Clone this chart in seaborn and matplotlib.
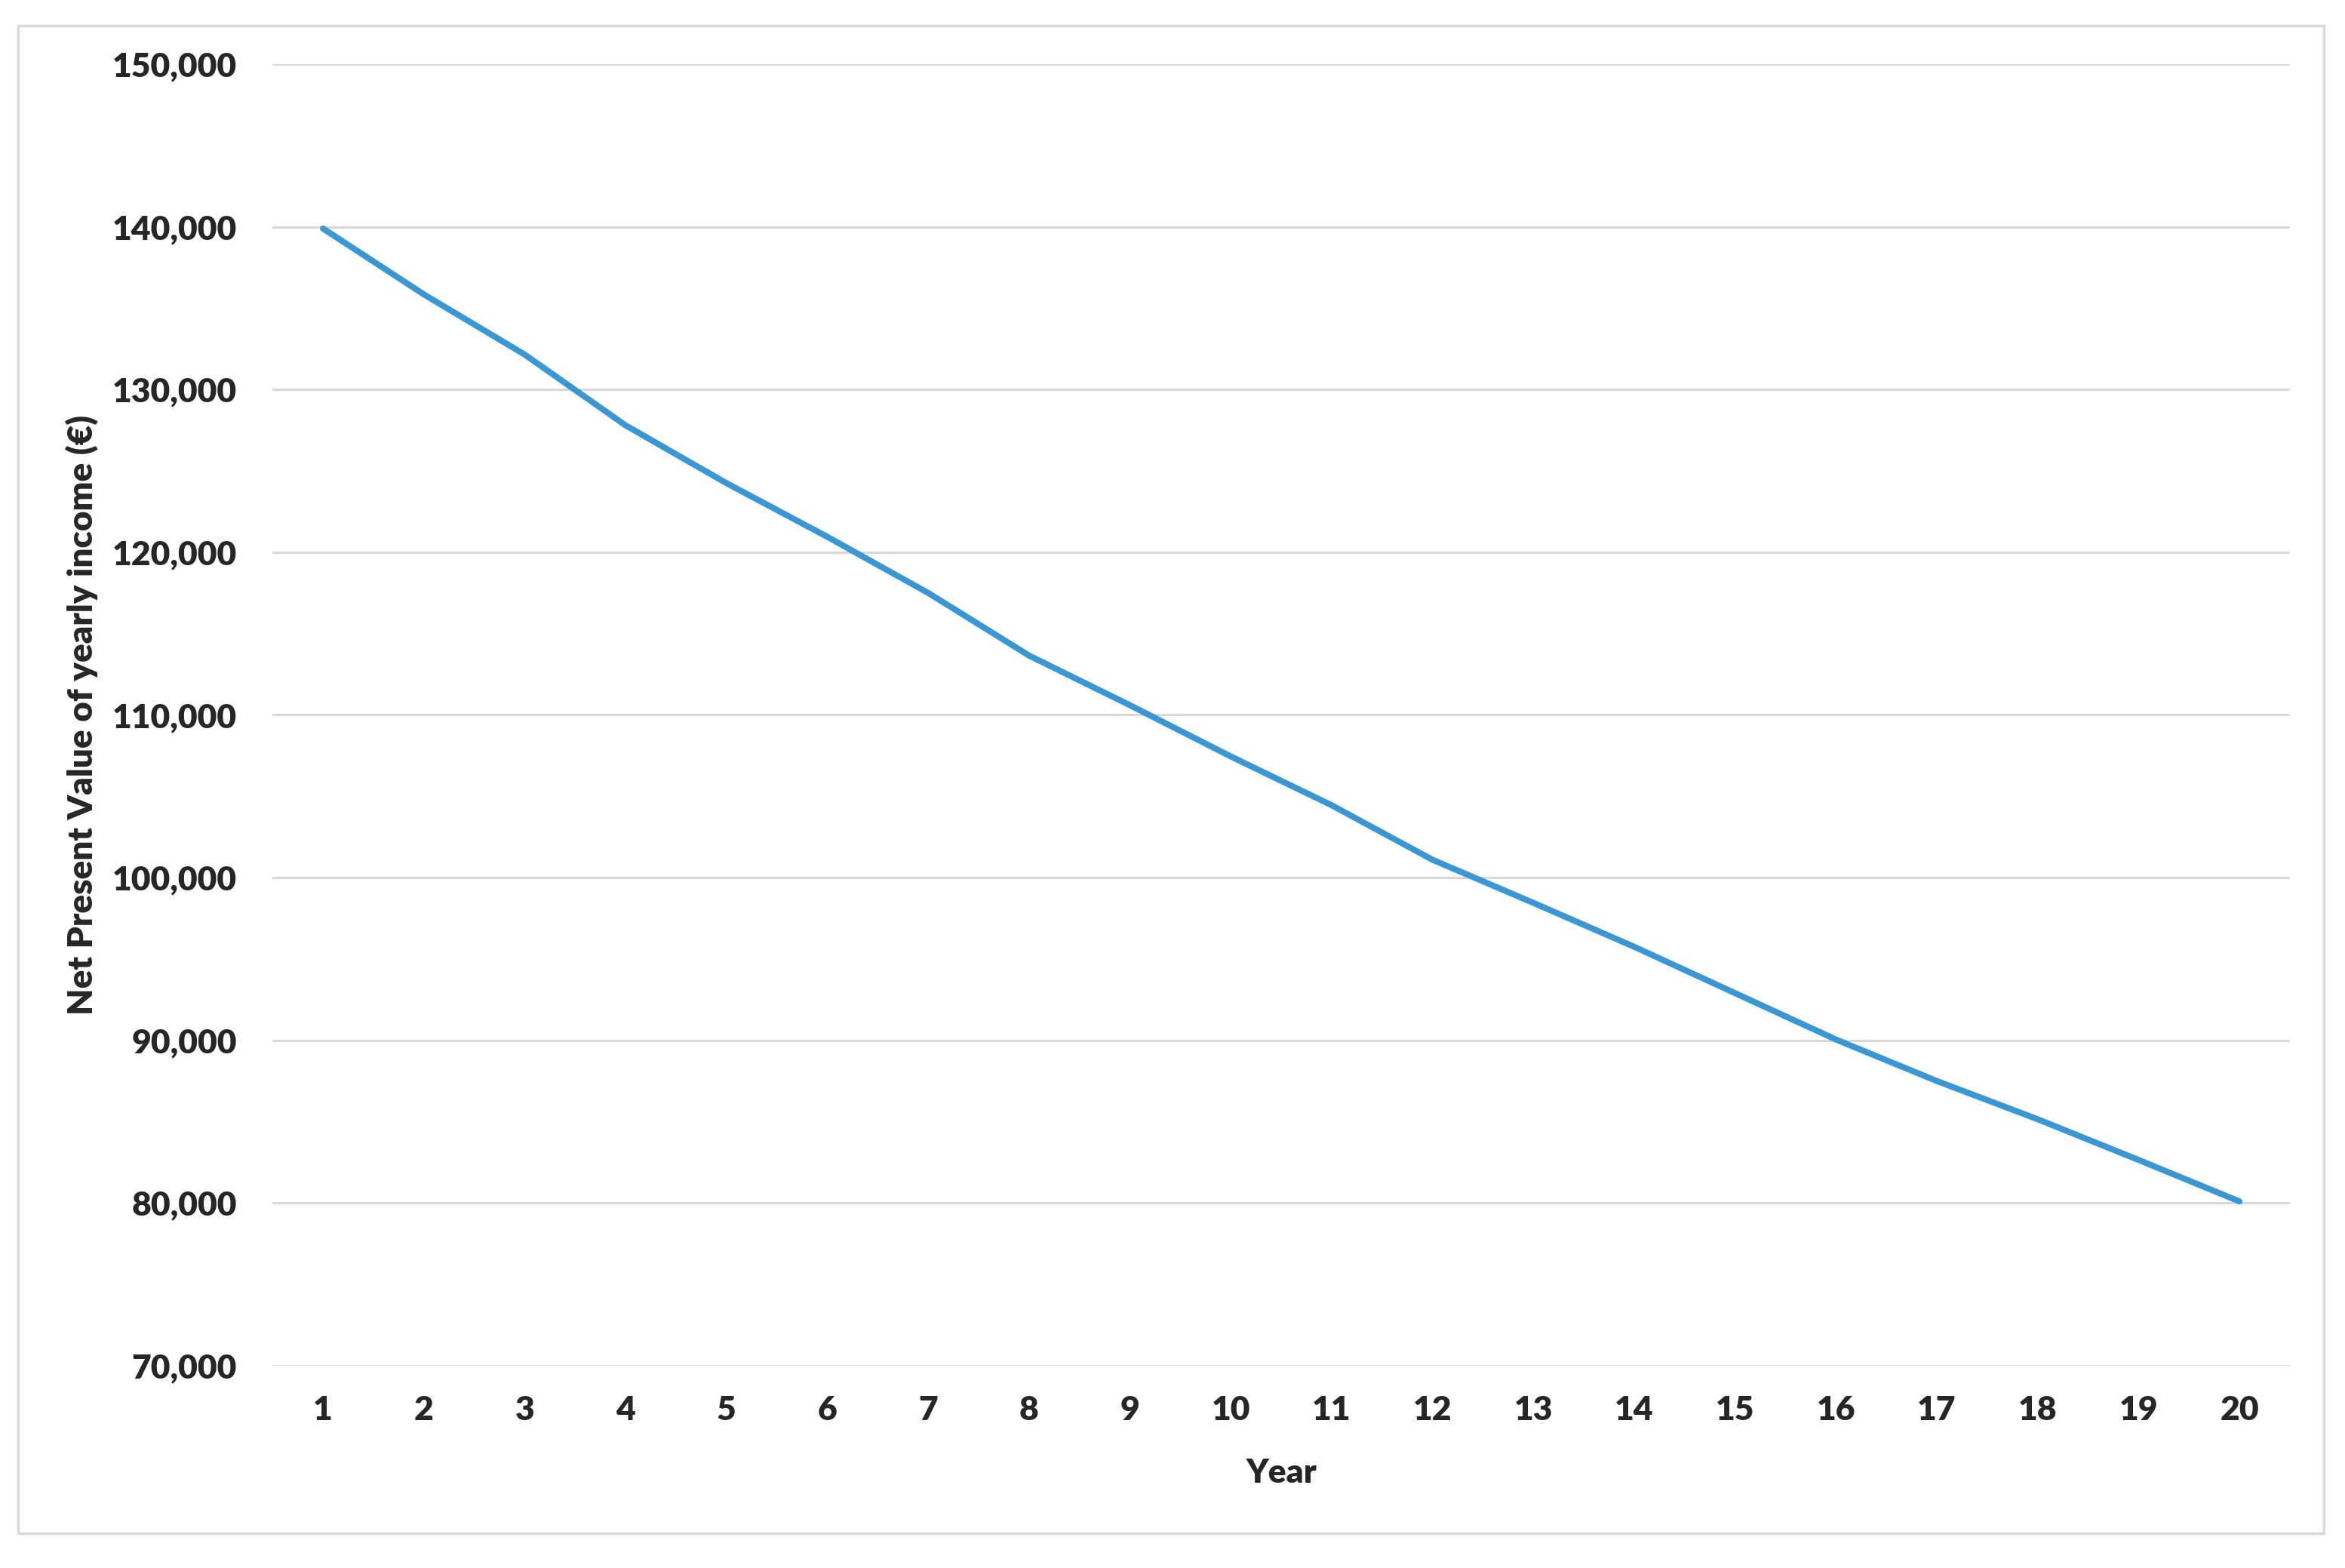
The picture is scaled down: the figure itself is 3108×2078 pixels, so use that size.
import matplotlib
matplotlib.use("Agg")
import matplotlib.pyplot as plt
import matplotlib.patches as mpatches
import matplotlib.ticker as mticker
import seaborn as sns
import pandas as pd

# ── Data ─────────────────────────────────────────────────────────────────────
YEARS = list(range(1, 21))
NPV = [139900, 135850, 132150, 127800, 124250, 120950, 117500, 113650, 110600, 107450,
       104450, 101100, 98450, 95750, 92900, 90050, 87500, 85150, 82650, 80100]
Y_TICKS = [70000, 80000, 90000, 100000, 110000, 120000, 130000, 140000, 150000]

LINE_COLOR = "#3A97D3"
GRID_COLOR = "#D9D9D9"

# ── Style ────────────────────────────────────────────────────────────────────
sns.set_style("white")
plt.rcParams["font.family"] = ["Lato", "DejaVu Sans"]
plt.rcParams["font.weight"] = "bold"

df = pd.DataFrame({"Year": YEARS, "NPV": NPV})

fig = plt.figure(figsize=(31.08, 20.78), dpi=100)
ax = fig.add_axes([0.1162, 0.1290, 0.8603, 0.8301])

sns.lineplot(data=df, x="Year", y="NPV", ax=ax, color=LINE_COLOR, linewidth=5.8)

ax.set_xlim(0.5, 20.5)
ax.set_ylim(Y_TICKS[0], Y_TICKS[-1])
ax.set_xticks(YEARS)
ax.set_yticks(Y_TICKS)
ax.yaxis.set_major_formatter(mticker.FuncFormatter(lambda v, _: f"{int(v):,}"))

ax.grid(axis="y", color=GRID_COLOR, linewidth=2.2)
ax.set_axisbelow(True)
for s in ax.spines.values():
    s.set_visible(False)
ax.tick_params(axis="both", length=0, labelsize=32)
ax.tick_params(axis="y", pad=34)
ax.tick_params(axis="x", pad=28)
for lab in ax.get_xticklabels() + ax.get_yticklabels():
    lab.set_fontweight("heavy")

ax.set_xlabel("Year", fontsize=32, fontweight="heavy")
ax.set_ylabel("Net Present Value of yearly income (€)", fontsize=33, fontweight="heavy")
ax.xaxis.set_label_coords(0.5, -0.071)
ax.yaxis.set_label_coords(-0.0864, 0.5)

# outer chart border
fig.patches.append(mpatches.Rectangle((24 / 3108, 1 - 2032 / 2078),
                                      (3080 - 24) / 3108, (2032 - 34) / 2078,
                                      transform=fig.transFigure, fill=False,
                                      edgecolor=GRID_COLOR, linewidth=2.5))

fig.savefig("out.png", dpi=100)
